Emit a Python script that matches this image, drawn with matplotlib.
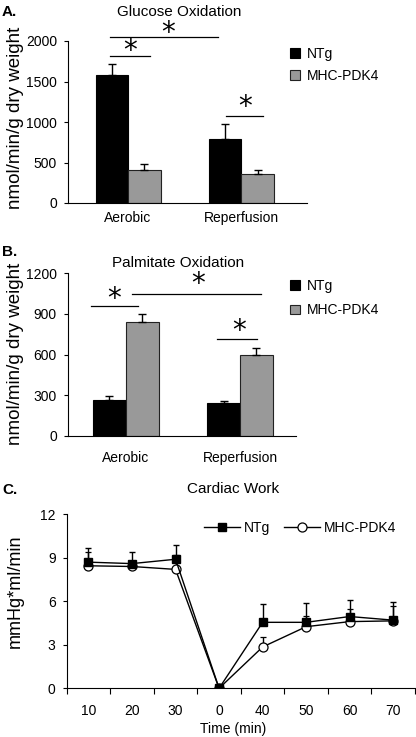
import matplotlib
matplotlib.use("Agg")
import matplotlib.pyplot as plt
from matplotlib.lines import Line2D
import numpy as np

plt.rcParams['font.family'] = ['Liberation Sans', 'DejaVu Sans']

# Panel A - glucose oxidation
groups = ["Aerobic", "Reperfusion"]
glucose_ntg = [1580, 795]
glucose_ntg_err = [130, 185]
glucose_pdk4 = [412, 358]
glucose_pdk4_err = [72, 45]

# Panel B - palmitate oxidation
palm_ntg = [262, 243]
palm_ntg_err = [30, 10]
palm_pdk4 = [842, 594]
palm_pdk4_err = [55, 52]

# Panel C - cardiac work
time_labels = ["10", "20", "30", "0", "40", "50", "60", "70"]
work_ntg = [8.7, 8.6, 8.9, 0, 4.55, 4.55, 4.95, 4.7]
work_ntg_err = [0.95, 0.8, 1.0, 0, 1.27, 1.3, 1.15, 1.27]
work_pdk4 = [8.45, 8.4, 8.2, 0, 2.85, 4.25, 4.6, 4.65]
work_pdk4_err = [0.95, 0.4, 1.0, 0, 0.7, 0.75, 0.85, 1.0]

W, H = 416, 737
fig = plt.figure(figsize=(W / 100, H / 100), dpi=100)


def box(l, t, r, b):
    return [l / W, 1 - b / H, (r - l) / W, (b - t) / H]


def bar_panel(ax, ntg, ntg_err, pdk4, pdk4_err, ymax, step, xlim, pad):
    x = np.arange(len(groups))
    w = 0.287
    ax.bar(x - w / 2, ntg, w, color="black", edgecolor="black", lw=0.8, label="NTg")
    ax.bar(x + w / 2, pdk4, w, color="#999999", edgecolor="#222222", lw=0.8, label="MHC-PDK4")
    ax.errorbar(x - w / 2, ntg, yerr=[np.zeros(len(x)), ntg_err], fmt="none",
                ecolor="black", elinewidth=1, capsize=3, capthick=1)
    ax.errorbar(x + w / 2, pdk4, yerr=[np.zeros(len(x)), pdk4_err], fmt="none",
                ecolor="black", elinewidth=1, capsize=3, capthick=1)
    ax.set_xlim(*xlim)
    ax.set_ylim(0, ymax)
    ax.set_yticks(np.arange(0, ymax + 1, step))
    ax.set_xticks(x)
    ax.set_xticklabels(groups)
    ax.tick_params(axis="x", length=0, pad=pad, labelsize=10)
    ax.tick_params(axis="y", length=3, width=0.8, direction="out", labelsize=10, pad=5)
    for s in ["top", "right"]:
        ax.spines[s].set_visible(False)
    for s in ["left", "bottom"]:
        ax.spines[s].set_linewidth(0.8)


def sig(ax, x0, x1, y, xs, ys):
    ax.plot([x0, x1], [y, y], color="black", lw=0.9, clip_on=False)
    ax.text(xs, ys, "*", ha="center", va="center", fontsize=20,
            family="DejaVu Sans", clip_on=False)


# ---- A ----
axA = fig.add_axes(box(68, 41, 307, 203))
bar_panel(axA, glucose_ntg, glucose_ntg_err, glucose_pdk4, glucose_pdk4_err,
          2000, 500, (-0.53, 1.58), 6)
sig(axA, -0.16, 0.195, 1819, 0.02, 1880)
sig(axA, -0.16, 0.79, 2053, 0.35, 2095)
sig(axA, 0.867, 1.195, 1074, 1.03, 1185)
axA.legend(loc="upper left", bbox_to_anchor=(290 / W, 1 - 47 / H),
           bbox_transform=fig.transFigure, frameon=False, fontsize=10,
           handlelength=0.7, handleheight=0.7, handletextpad=0.5,
           labelspacing=0.55, borderpad=0, borderaxespad=0)
fig.text(2 / W, 1 - 12 / H, "A.", fontsize=11, fontweight="bold", va="center")
fig.text(179 / W, 1 - 12 / H, "Glucose Oxidation", fontsize=11, ha="center", va="center")
fig.text(16 / W, 1 - 118 / H, "nmol/min/g dry weight", fontsize=13.5,
         rotation=90, ha="center", va="center")

# ---- B ----
axB = fig.add_axes(box(68, 273.3, 296, 435.7))
bar_panel(axB, palm_ntg, palm_ntg_err, palm_pdk4, palm_pdk4_err,
          1200, 300, (-0.506, 1.49), 11)
sig(axB, -0.304, 0.108, 961, -0.1, 1010)
sig(axB, 0.053, 1.187, 1047, 0.637, 1120)
sig(axB, 0.80, 1.152, 712, 0.988, 770)
axB.legend(loc="upper left", bbox_to_anchor=(290 / W, 1 - 279 / H),
           bbox_transform=fig.transFigure, frameon=False, fontsize=10,
           handlelength=0.7, handleheight=0.7, handletextpad=0.5,
           labelspacing=0.75, borderpad=0, borderaxespad=0)
fig.text(2 / W, 1 - 252 / H, "B.", fontsize=11, fontweight="bold", va="center")
fig.text(178 / W, 1 - 263 / H, "Palmitate Oxidation", fontsize=11, ha="center", va="center")
fig.text(16 / W, 1 - 354 / H, "nmol/min/g dry weight", fontsize=13.5,
         rotation=90, ha="center", va="center")

# ---- C ----
axC = fig.add_axes(box(66.7, 514.3, 415, 688.3))
xc = np.arange(len(time_labels))
axC.errorbar(xc, work_pdk4, yerr=[np.zeros(len(xc)), work_pdk4_err], color="black",
             lw=1, marker="o", ms=6.5, mfc="white", mec="black", mew=0.9,
             capsize=2.5, capthick=1, elinewidth=1)
axC.errorbar(xc, work_ntg, yerr=[np.zeros(len(xc)), work_ntg_err], color="black",
             lw=1, marker="s", ms=6, mfc="black", mec="black",
             capsize=2.5, capthick=1, elinewidth=1)
axC.set_xlim(-0.5, len(xc) - 0.5)
axC.set_ylim(0, 12)
axC.set_yticks([0, 3, 6, 9, 12])
axC.set_xticks(xc)
axC.set_xticklabels(time_labels)
axC.set_xticks(np.arange(-0.5, len(xc), 1), minor=True)
axC.tick_params(axis="x", which="major", length=0, pad=11, labelsize=10)
axC.tick_params(axis="x", which="minor", length=4, width=0.8, direction="out")
axC.tick_params(axis="y", length=3, width=0.8, direction="out", labelsize=10, pad=5)
for s in ["top", "right"]:
    axC.spines[s].set_visible(False)
for s in ["left", "bottom"]:
    axC.spines[s].set_linewidth(0.8)
legend_handles = [
    Line2D([], [], color="black", lw=1, marker="s", ms=6, mfc="black", mec="black"),
    Line2D([], [], color="black", lw=1, marker="o", ms=6.5, mfc="white", mec="black", mew=0.9),
]
axC.legend(legend_handles, ["NTg", "MHC-PDK4"], ncol=2, loc="center",
           bbox_to_anchor=(0.67, 0.92), frameon=False, fontsize=10,
           handlelength=2.6, handletextpad=0.3, columnspacing=1.0, borderpad=0)
fig.text(2 / W, 1 - 490 / H, "C.", fontsize=11, fontweight="bold", va="center")
fig.text(233 / W, 1 - 489 / H, "Cardiac Work", fontsize=11, ha="center", va="center")
fig.text(15 / W, 1 - 591 / H, "mmHg*ml/min", fontsize=13,
         rotation=90, ha="center", va="center")
fig.text(233 / W, 1 - 729 / H, "Time (min)", fontsize=10, ha="center", va="center")

fig.savefig("out.png", dpi=100)
